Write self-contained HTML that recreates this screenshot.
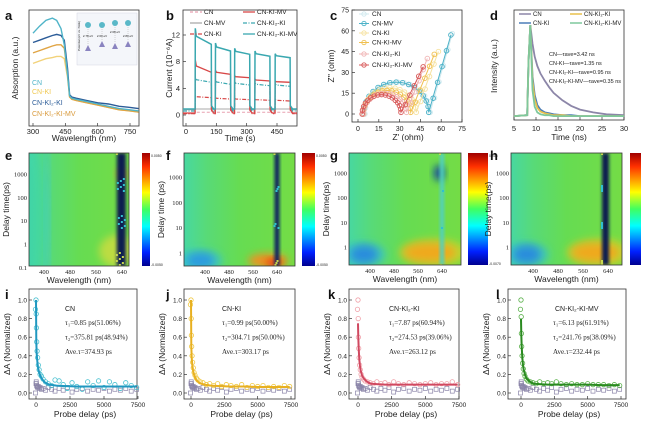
<!DOCTYPE html>
<html><head><meta charset="utf-8"><style>
html,body{margin:0;padding:0;background:#fff;}
svg{display:block;font-family:"Liberation Sans",sans-serif;}
</style></head><body>
<svg id="fig" width="652" height="426" viewBox="0 0 652 426" xmlns="http://www.w3.org/2000/svg">
<defs>
<linearGradient id="jet" x1="0" y1="1" x2="0" y2="0">
<stop offset="0" stop-color="#00008f"/><stop offset="0.12" stop-color="#0020ff"/><stop offset="0.35" stop-color="#00ffff"/>
<stop offset="0.5" stop-color="#40ff60"/><stop offset="0.65" stop-color="#ffff00"/><stop offset="0.88" stop-color="#ff3000"/><stop offset="1" stop-color="#a00000"/></linearGradient>
<linearGradient id="hmbase" x1="0" y1="0" x2="1" y2="0">
<stop offset="0" stop-color="#48d8a0"/><stop offset="0.2" stop-color="#58da78"/><stop offset="0.5" stop-color="#66dc52"/><stop offset="1" stop-color="#74dc46"/></linearGradient>
<filter id="bl" x="-50%" y="-50%" width="200%" height="200%"><feGaussianBlur stdDeviation="4"/></filter>
<filter id="bl2" x="-50%" y="-50%" width="200%" height="200%"><feGaussianBlur stdDeviation="1.5"/></filter>
</defs>
</svg>
<script>
// ---------- Panel a data ----------
const aWl = [300,330,360,390,410,430,445,460,470,480,500,550,600,650,700,750,790];
const aCN = [0.80,0.86,0.91,0.93,0.91,0.84,0.70,0.45,0.26,0.24,0.23,0.21,0.19,0.17,0.15,0.14,0.13];
const aKI = [0.54,0.56,0.58,0.59,0.60,0.60,0.58,0.42,0.25,0.23,0.22,0.20,0.18,0.16,0.14,0.13,0.12];
const aKI2 = [0.72,0.74,0.76,0.78,0.79,0.78,0.74,0.50,0.27,0.25,0.24,0.22,0.20,0.19,0.17,0.16,0.15];
const aKI2MV = [0.63,0.65,0.67,0.69,0.70,0.70,0.67,0.45,0.25,0.23,0.22,0.20,0.18,0.16,0.14,0.13,0.12];
const aTicks = [300,450,600,750];
// ---------- Panel b data ----------
const bOn = [45,145,240,340,440];
const bOff = [125,220,315,415,515];
const bTeal = [13.0,10.8,10.0,9.6,9.2], bTealEnd = [10.6,9.6,9.1,8.8,8.6];
const bRed = [8.3,6.7,5.9,5.4,5.1], bRedEnd = [6.4,6.1,5.6,5.1,4.9];
const bTealDD = [5.7,5.3,5.0,4.8,4.7], bTealDDEnd = [4.9,4.6,4.5,4.4,4.3];
const bRedDD = [2.9,2.6,2.5,2.4,2.3], bRedDDEnd = [2.6,2.4,2.3,2.2,2.1];
const bGray = [0.9,0.9,0.9,0.9,0.9];
const bPink = [0.4,0.4,0.4,0.4,0.4];
const bTicks = [0,150,300,450];
const bYTicks = [0,4,8,12];
// ---------- Panel c data ----------
const cNames = ["CN","CN-MV","CN-KI","CN-KI-MV","CN-KI\u2082-KI","CN-KI\u2082-KI-MV"];
const cStart = [5,4,4,4,4,3];
const cArcEnd = [52,51,42,38,35,31];
const cArcH = [23,23,19,17,15,14];
const cTailX = [68,67,58,55,50,47];
const cTailY = [58,57,45,43,40,34];
const cTicks = [0,15,30,45,60,75];
// ---------- Panel d data ----------
const dT = [5,8,8.3,8.7,9.2,9.7,10.3,11,12,13,14,16,18,20,23,26,30];
const dCN = [0.02,0.03,0.6,1.0,0.80,0.66,0.56,0.48,0.40,0.33,0.27,0.19,0.13,0.09,0.06,0.04,0.03];
const dKI = [0.02,0.03,0.6,1.0,0.45,0.25,0.14,0.09,0.06,0.05,0.04,0.03,0.03,0.02,0.02,0.02,0.02];
const dKI2 = [0.02,0.03,0.6,1.0,0.40,0.20,0.11,0.07,0.05,0.04,0.03,0.03,0.02,0.02,0.02,0.02,0.02];
const dMV = [0.02,0.03,0.6,1.0,0.30,0.12,0.06,0.04,0.03,0.03,0.02,0.02,0.02,0.02,0.02,0.02,0.02];
const dTicks = [5,10,15,20,25,30];
// ---------- Panels i-l data ----------
const fitT = [0,25,50,100,150,200,300,400,600,800,1000,1500,2000,3000,4000,5000,6000,7000,7400];
const fitI = [1.0,0.55,0.42,0.33,0.28,0.24,0.19,0.16,0.12,0.10,0.09,0.08,0.075,0.07,0.07,0.07,0.07,0.07,0.07];
const fitJ = [1.0,0.50,0.38,0.30,0.25,0.21,0.17,0.14,0.11,0.10,0.09,0.08,0.075,0.07,0.07,0.065,0.065,0.065,0.065];
const fitK = [0.75,0.60,0.48,0.36,0.29,0.24,0.19,0.16,0.13,0.11,0.10,0.095,0.09,0.09,0.09,0.09,0.09,0.09,0.09];
const fitL = [0.80,0.62,0.50,0.38,0.30,0.25,0.20,0.16,0.13,0.11,0.10,0.095,0.09,0.09,0.09,0.09,0.085,0.085,0.085];
const scT = [-40,0,15,30,50,80,120,170,230,300,400,520,700,900,1150,1400,1700,2000,2300,2650,3000,3400,3800,4200,4600,5000,5400,5800,6200,6600,7000,7400];
const scI = [0.9,1.0,0.85,0.7,0.55,0.45,0.38,0.3,0.25,0.2,0.18,0.15,0.12,0.1,0.08,0.14,0.13,0.09,0.05,0.11,0.07,0.04,0.12,0.08,0.13,0.06,0.12,0.09,0.05,0.11,0.08,0.06];
const scJ = [0.95,1.0,0.8,0.62,0.5,0.4,0.33,0.27,0.22,0.19,0.16,0.14,0.12,0.11,0.09,0.1,0.08,0.1,0.07,0.09,0.08,0.07,0.09,0.06,0.08,0.07,0.08,0.06,0.07,0.06,0.08,0.07];
const scK = [0.9,1.0,0.8,0.6,0.48,0.38,0.3,0.25,0.2,0.17,0.15,0.13,0.12,0.11,0.1,0.12,0.1,0.11,0.09,0.12,0.1,0.09,0.11,0.1,0.09,0.1,0.11,0.09,0.1,0.1,0.12,0.09];
const scL = [0.9,1.0,0.82,0.64,0.5,0.4,0.32,0.26,0.21,0.18,0.15,0.13,0.12,0.11,0.1,0.12,0.1,0.11,0.1,0.12,0.1,0.09,0.1,0.09,0.09,0.1,0.09,0.09,0.09,0.08,0.09,0.08];
const scRef = [0.0,0.1,0.12,0.1,0.08,0.07,0.06,0.07,0.05,0.06,0.04,0.05,0.03,0.06,0.04,0.02,0.05,0.03,0.06,0.01,0.04,0.05,0.02,0.04,0.03,0.05,0.02,0.04,0.03,0.05,0.02,0.04];
const yTicksN = [0.0,0.2,0.4,0.6,0.8,1.0];
const xTicksN = [0,2500,5000,7500];
const hmXTicks = [400,480,560,640];
const hmYTicksE = [0.1,1,10,100,1000];
const hmYTicks = [1,10,100,1000];

const NS="http://www.w3.org/2000/svg";
const svg=document.getElementById('fig');
function mk(tag,attrs,parent,txt){const e=document.createElementNS(NS,tag);for(const k in attrs)e.setAttribute(k,attrs[k]);if(txt!==undefined)e.textContent=txt;(parent||svg).appendChild(e);return e;}
function lin(d0,d1,r0,r1){return v=>r0+(v-d0)*(r1-r0)/(d1-d0);}
function logS(d0,d1,r0,r1){return v=>r0+(Math.log10(v)-Math.log10(d0))*(r1-r0)/(Math.log10(d1)-Math.log10(d0));}
function pathOf(xs,ys,X,Y){return xs.map((x,i)=>(i?'L':'M')+X(x).toFixed(1)+' '+Y(ys[i]).toFixed(1)).join(' ');}
function group(name){const g=mk('g',{});return g;}
function label(g,x,y,t,opt){opt=opt||{};const e=mk('text',{x:x,y:y,'font-size':opt.fs||7,'text-anchor':opt.a||'middle',fill:opt.fill||'#222','font-weight':opt.fw||'normal'},g,t);if(opt.rot)e.setAttribute('transform','rotate(-90 '+x+' '+y+')');if(opt.ff)e.setAttribute('font-family',opt.ff);return e;}
function box(g,x0,y0,x1,y1,name){const r=mk('rect',{x:x0,y:y0,width:x1-x0,height:y1-y0,fill:'none',stroke:'#333','stroke-width':0.8},g);return r;}
function panelLetter(x,y,t){const e=label(svg,x,y,t,{fs:13,fw:'bold',a:'start',fill:'#111'});}

// ================= Panel a =================
(function(){
const g=group('panel-a-absorption');
const X=lin(300,750,33,130), Y=lin(0,1,126,10);
box(g,29,10,139,126,'panel-a-frame');
const cp=mk('clipPath',{id:'clipa'},svg);mk('rect',{x:29,y:10,width:110,height:116},cp);
const gg=mk('g',{'clip-path':'url(#clipa)'},g);
const ser=[[aKI,'#f2d27a'],[aKI2MV,'#e0a444'],[aKI2,'#2c5c98'],[aCN,'#4fb4c8']];
ser.forEach(s=>{const p=mk('path',{d:pathOf(aWl,s[0],X,Y),fill:'none',stroke:s[1],'stroke-width':1.4},gg);});
aTicks.forEach(t=>{mk('line',{x1:X(t),x2:X(t),y1:126,y2:123,stroke:'#333','stroke-width':0.7},g);label(g,X(t),134,t,{fs:7.5});});
label(g,84,141,'Wavelength (nm)',{fs:8.5});
label(g,18,68,'Absorption (a.u.)',{fs:8.5,rot:1});
const ins=mk('rect',{x:77,y:13,width:60,height:52,fill:'#f4f6fa',stroke:'#ccd','stroke-width':0.4},g);

[[88,22,49],[102,22,45],[115,20,47],[128,20,45]].forEach(c=>{mk('circle',{cx:c[0],cy:c[1]+3,r:3,fill:'#5ab8c8'},g);mk('line',{x1:c[0],x2:c[0],y1:c[1]+7,y2:c[2]-4,stroke:'#999','stroke-width':0.4,'stroke-dasharray':'1 1'},g);mk('path',{d:`M${c[0]-3} ${c[2]+2}L${c[0]+3} ${c[2]+2}L${c[0]} ${c[2]-4}Z`,fill:'#8a84c0'},g);});
label(g,88,37,'2.78 eV',{fs:3});label(g,102,37,'2.60 eV',{fs:3});label(g,115,33,'2.68 eV',{fs:3});label(g,128,37,'2.80 eV',{fs:3});
label(g,80,36,'Potential (eV vs. NHE)',{fs:3,rot:1});
const leg=[['CN','#4fb4c8',85],['CN-KI','#f0c850',94],['CN-KI\u2082-KI','#2c5c98',105],['CN-KI\u2082-KI-MV','#d99a3c',116]];
leg.forEach(l=>{const e=label(g,32,l[2],l[0],{fs:7,a:'start',fill:l[1]});});
})();
panelLetter(5,20,'a');

// ================= Panel b =================
(function(){
const g=group('panel-b-photocurrent');
const X=lin(0,450,186,277), Y=lin(0,12,115,35);
box(g,183,10,297,126,'panel-b-frame');
const cp=mk('clipPath',{id:'clipb'},svg);mk('rect',{x:183,y:10,width:114,height:116},cp);
const gg=mk('g',{'clip-path':'url(#clipb)'},g);
function sq(peaks,ends,base,col,dash,w){
 let xs=[-15],ys=[base];
 peaks.forEach((p,i)=>{xs.push(bOn[i],bOn[i]+1,bOn[i]+6,bOff[i],bOff[i]+1,bOff[i]+12);ys.push(base,p,p-(p-ends[i])*0.5,ends[i],base+0.5,base);});
 xs.push(548);ys.push(base);
 const p=mk('path',{d:pathOf(xs,ys,X,Y),fill:'none',stroke:col,'stroke-width':w||1.2},gg);
 if(dash)p.setAttribute('stroke-dasharray',dash);
 
}
sq(bPink,bPink,0.2,'#e8a0b0','3 2',1);
sq(bGray,bGray,0.8,'#aaaaaa',null,1);
sq(bRedDD,bRedDDEnd,0.2,'#d84848','4 1.5 1 1.5',1.2);
sq(bTealDD,bTealDDEnd,0.6,'#3aa8b0','4 1.5 1 1.5',1.2);
sq(bRed,bRedEnd,0.3,'#d84848',null,1.3);
sq(bTeal,bTealEnd,0.9,'#3aa8b0',null,1.5);
bTicks.forEach(t=>{mk('line',{x1:X(t),x2:X(t),y1:126,y2:123,stroke:'#333','stroke-width':0.7},g);label(g,X(t),134,t,{fs:7.5});});
bYTicks.forEach(t=>{mk('line',{x1:183,x2:186,y1:Y(t),y2:Y(t),stroke:'#333','stroke-width':0.7},g);label(g,180,Y(t)+2.5,t,{fs:7.5,a:'end'});});
label(g,240,141,'Time (s)',{fs:8.5});
label(g,172,68,'Current (10\u207B\u2076A)',{fs:8.5,rot:1});
const leg=[[190,14,'CN','#e8a0b0','3 2'],[190,25,'CN-MV','#aaaaaa',null],[190,36,'CN-KI','#d84848','4 1.5 1 1.5'],[243,14,'CN-KI-MV','#d84848',null],[243,25,'CN-KI\u2082-KI','#3aa8b0','4 1.5 1 1.5'],[243,36,'CN-KI\u2082-KI-MV','#3aa8b0',null]];
leg.forEach(l=>{const lg=mk('g',{},g);
 const ln=mk('line',{x1:l[0],x2:l[0]+12,y1:l[1]-2,y2:l[1]-2,stroke:l[3],'stroke-width':1.3},lg);if(l[4])ln.setAttribute('stroke-dasharray',l[4]);
 label(lg,l[0]+14,l[1],l[2],{fs:6.5,a:'start'});});
})();
panelLetter(166,20,'b');

// ================= Panel c =================
(function(){
const g=group('panel-c-nyquist');
const X=lin(0,75,358,462), Y=lin(0,75,114,10);
box(g,352,10,462,122,'panel-c-frame');
const cols=['#cfe8ee','#4cb2c8','#f6e2a0','#f0c050','#f0b4b4','#d85a5a'];
for(let s=0;s<6;s++){
 const xs=[],ys=[];const c=(cStart[s]+cArcEnd[s])/2, r=(cArcEnd[s]-cStart[s])/2;
 for(let k=0;k<=16;k++){const th=Math.PI*(1-k/16);xs.push(c+r*Math.cos(th));ys.push(cArcH[s]*Math.sin(th)+ (k>12?(k-12)*0.3:0));}
 xs.push(cTailX[s]);ys.push(cTailY[s]);
 const sg=mk('g',{},g);
 mk('path',{d:pathOf(xs,ys,X,Y),fill:'none',stroke:cols[s],'stroke-width':1},sg);
 xs.forEach((x,i)=>{const pt=mk('circle',{cx:X(x),cy:Y(ys[i]),r:2.3,fill:'none',stroke:cols[s],'stroke-width':0.9},sg);});
 for(let k=1;k<5;k++){const tx=cArcEnd[s]+(cTailX[s]-cArcEnd[s])*k/5, ty=cTailY[s]*k/5;mk('circle',{cx:X(tx),cy:Y(ty),r:2.3,fill:'none',stroke:cols[s],'stroke-width':0.9},sg);}
 const ly=[16,25.5,35,44.5,56,67][s];
 const lg=mk('g',{},g);
 mk('line',{x1:359,x2:369,y1:ly-2,y2:ly-2,stroke:cols[s],'stroke-width':1},lg);mk('circle',{cx:364,cy:ly-2,r:2.2,fill:'none',stroke:cols[s],'stroke-width':0.9},lg);
 label(lg,372,ly,cNames[s],{fs:6.5,a:'start'});
}
cTicks.forEach(t=>{mk('line',{x1:X(t),x2:X(t),y1:122,y2:119,stroke:'#333','stroke-width':0.7},g);label(g,X(t),131,t,{fs:7});
 mk('line',{x1:352,x2:355,y1:Y(t),y2:Y(t),stroke:'#333','stroke-width':0.7},g);label(g,349,Y(t)+2.5,t,{fs:7,a:'end'});});
label(g,408,140,"Z' (ohm)",{fs:8.5});
label(g,334,66,"Z'' (ohm)",{fs:8.5,rot:1});
})();
panelLetter(330,20,'c');

// ================= Panel d =================
(function(){
const g=group('panel-d-trpl');
const X=lin(5,30,514,624), Y=lin(0,1,118,25);
box(g,514,10,624,120,'panel-d-frame');
const ser=[[dCN,'#8c86a8'],[dKI,'#4a7cb8'],[dKI2,'#e8c04c'],[dMV,'#7ec89c']];
ser.forEach(s=>{const p=mk('path',{d:pathOf(dT,s[0],X,Y),fill:'none',stroke:s[1],'stroke-width':1.8},g);});
dTicks.forEach(t=>{mk('line',{x1:X(t),x2:X(t),y1:120,y2:117,stroke:'#333','stroke-width':0.7},g);label(g,X(t),131,t,{fs:7.5});});
label(g,569,140,'Time (ns)',{fs:8.5});
label(g,497,66,'Intensity (a.u.)',{fs:8.5,rot:1});
const leg=[[519,16,'CN','#8c86a8'],[519,25,'CN-KI','#4a7cb8'],[570,16,'CN-KI\u2082-KI','#e8c04c'],[570,25,'CN-KI\u2082-KI-MV','#7ec89c']];
leg.forEach(l=>{const lg=mk('g',{},g);
 mk('line',{x1:l[0],x2:l[0]+12,y1:l[1]-2,y2:l[1]-2,stroke:l[3],'stroke-width':1.5},lg);label(lg,l[0]+14,l[1],l[2],{fs:6,a:'start'});});
['CN\u2014\u03C4ave=3.42 ns','CN-KI\u2014\u03C4ave=1.35 ns','CN-KI\u2082-KI\u2014\u03C4ave=0.95 ns','CN-KI\u2082-KI-MV\u2014\u03C4ave=0.35 ns'].forEach((t,i)=>label(g,549,56+i*9,t,{fs:5.5,a:'start'}));
})();
panelLetter(490,20,'d');

// ================= Heatmaps =================
function heatmap(cfg){
 const g=group(cfg.name);
 const X=lin(400,640,cfg.x400,cfg.x640), Y=logS(1,1000,cfg.y1,cfg.y1000);
 const id='clip'+cfg.letter;const cp=mk('clipPath',{id:id},svg);mk('rect',{x:cfg.x0,y:cfg.y0,width:cfg.x1-cfg.x0,height:cfg.y2-cfg.y0},cp);
 const gg=mk('g',{'clip-path':'url(#'+id+')'},g);
 mk('rect',{x:cfg.x0,y:cfg.y0,width:cfg.x1-cfg.x0,height:cfg.y2-cfg.y0,fill:'url(#hmbase)'},gg);
 cfg.blobs.forEach(b=>{const e=mk('ellipse',{cx:X(b[0]),cy:Y(b[1]),rx:b[2],ry:b[3],fill:b[4],opacity:b[5]||1,filter:'url(#bl)'},gg);});
 if(cfg.col){const cx=X(cfg.col);
  mk('rect',{x:cx-cfg.colW/2,y:cfg.y0,width:cfg.colW,height:cfg.y2-cfg.y0,fill:cfg.colFill,filter:'url(#bl2)'},gg);
  for(let k=0;k<cfg.spk;k++){const yy=cfg.y0+((k*37)%(cfg.y2-cfg.y0));mk('rect',{x:cx-cfg.colW/2+((k*7)%cfg.colW)-1,y:yy,width:2,height:2,fill:k%3?'#30c0d0':'#c8d850'},gg);}
 }
 box(g,cfg.x0,cfg.y0,cfg.x1,cfg.y2,'heatmap-frame');
 hmXTicks.forEach(t=>label(g,X(t),cfg.y2+8,t,{fs:6.5,ff:'Liberation Serif'}));
 cfg.yt.forEach(t=>label(g,cfg.x0-2,Y(t)+2.5,t,{fs:6.5,a:'end',ff:'Liberation Serif'}));
 label(g,(cfg.x0+cfg.x1)/2,cfg.y2+17,'Wavelength (nm)',{fs:8.5});
 label(g,cfg.x0-20,(cfg.y0+cfg.y2)/2,cfg.ytitle,{fs:8.5,rot:1});
 const cb=mk('rect',{x:cfg.cb[0],y:cfg.y0,width:cfg.cb[1]-cfg.cb[0],height:cfg.y2-cfg.y0,fill:'url(#jet)'},g);
 
 label(g,cfg.cb[1]+1,cfg.y0+4,cfg.cbl[0],{fs:3.5,a:'start'});label(g,cfg.cb[1]+1,cfg.y2,cfg.cbl[1],{fs:3.5,a:'start'});
}
heatmap({name:'panel-e-heatmap',letter:'e',x0:29,x1:129,y0:153,y2:266,x400:44,x640:122,y1:244,y1000:174,yt:hmYTicksE,cb:[142,150],cbl:['0.0050','-0.0050'],ytitle:'Delay time(ps)',
 blobs:[[410,10,2,80,'#40c8d8',0.9],[360,10,14,80,'#3ad4b0',0.5],[625,0.5,18,16,'#d0dc40',0.8],[640,1000,5,6,'#f08030',0.8]],col:638,colW:9,colFill:'#0a1a50',spk:22});
heatmap({name:'panel-f-heatmap',letter:'f',x0:184,x1:295,y0:153,y2:266,x400:205,x640:277,y1:253,y1000:177,yt:hmYTicks,cb:[302,315],cbl:['0.0050','-0.0050'],ytitle:'Delay time (ps)',
 blobs:[[385,0.5,14,7,'#2060e0'],[385,0.5,22,11,'#30c0e0',0.6],[610,0.5,20,7,'#f09020'],[630,0.4,8,4,'#e83010']],col:640,colW:5,colFill:'#0a2060',spk:10});
heatmap({name:'panel-g-heatmap',letter:'g',x0:349,x1:461,y0:153,y2:265,x400:370,x640:442,y1:247,y1000:173,yt:hmYTicks,cb:[468,488],cbl:['0.015','-0.0070'],ytitle:'Delay time(ps)',
 blobs:[[380,0.5,14,8,'#1c40d8'],[380,0.5,22,12,'#30c0e0',0.6],[600,0.6,26,9,'#f07018'],[610,0.6,34,14,'#f0d020',0.6],[630,1000,5,8,'#1040a0']],col:640,colW:4,colFill:'#50d0c0',spk:4});
heatmap({name:'panel-h-heatmap',letter:'h',x0:511,x1:622,y0:153,y2:265,x400:533,x640:608,y1:247,y1000:173,yt:hmYTicks,cb:[630,641],cbl:['',''],ytitle:'Delay time(ps)',
 blobs:[[380,0.5,14,8,'#1c40d8'],[380,0.5,22,12,'#30c0e0',0.6],[600,0.6,24,9,'#f07018'],[610,0.6,32,14,'#f0d020',0.6]],col:632,colW:7,colFill:'#0a1a50',spk:18});
panelLetter(5,160,'e');panelLetter(166,160,'f');panelLetter(330,160,'g');panelLetter(490,160,'h');

// ================= Kinetics panels =================
function kinetics(cfg){
 const g=group(cfg.name);
 const X=lin(0,7500,cfg.x0v,cfg.x7500), Y=lin(0,1,393,300);
 box(g,cfg.bx0,289,cfg.bx1,399,'kinetics-frame');
 scT.forEach((t,i)=>{const s=mk('rect',{x:X(t)-2,y:Y(scRef[i])-2,width:4,height:4,fill:'none',stroke:'#8a84a8','stroke-width':0.7},g);});
 scT.forEach((t,i)=>{const s=mk('circle',{cx:X(t),cy:Y(cfg.sc[i]),r:2.2,fill:'none',stroke:cfg.col,'stroke-width':0.8},g);});
 const p=mk('path',{d:pathOf(fitT,cfg.fit,X,Y),fill:'none',stroke:cfg.fc,'stroke-width':2},g);
 xTicksN.forEach(t=>{mk('line',{x1:X(t),x2:X(t),y1:399,y2:396,stroke:'#333','stroke-width':0.7},g);label(g,X(t),407,t,{fs:6.5});});
 yTicksN.forEach(t=>{mk('line',{x1:cfg.bx0,x2:cfg.bx0+3,y1:Y(t),y2:Y(t),stroke:'#333','stroke-width':0.7},g);label(g,cfg.bx0-2,Y(t)+2.5,t.toFixed(1),{fs:6.5,a:'end'});});
 label(g,(cfg.bx0+cfg.bx1)/2+2,417,'Probe delay (ps)',{fs:8.5});
 label(g,cfg.bx0-19,344,'\u0394A (Normalized)',{fs:8.5,rot:1});
 const tx=cfg.tx;
 label(g,tx+(cfg.nameOff||0),311,cfg.title,{fs:7,a:'start'});
 cfg.lines.forEach((t,i)=>label(g,tx,325+i*14.5,t,{fs:7,a:'start',ff:'Liberation Serif'}));
}
kinetics({name:'panel-i-kinetics',x0v:36,x7500:138,bx0:29,bx1:137,sc:scI,fit:fitI,col:'#48c0d0',fc:'#2098c0',tx:65,title:'CN',lines:['\u03C4\u2081=0.85 ps(51.06%)','\u03C4\u2082=375.81 ps(48.94%)','Ave.\u03C4=374.93 ps']});
kinetics({name:'panel-j-kinetics',x0v:191,x7500:291,bx0:184,bx1:295,sc:scJ,fit:fitJ,col:'#f0c840',fc:'#e8b020',tx:222,title:'CN-KI',lines:['\u03C4\u2081=0.99 ps(50.00%)','\u03C4\u2082=304.71 ps(50.00%)','Ave.\u03C4=303.17 ps']});
kinetics({name:'panel-k-kinetics',x0v:358,x7500:459,bx0:349,bx1:459,sc:scK,fit:fitK,col:'#f0a0a8',fc:'#d04860',tx:389,title:'CN-KI\u2082-KI',lines:['\u03C4\u2081=7.87 ps(60.94%)','\u03C4\u2082=274.53 ps(39.06%)','Ave.\u03C4=263.12 ps']});
kinetics({name:'panel-l-kinetics',x0v:521,x7500:621,bx0:508,bx1:626,sc:scL,fit:fitL,col:'#58b048',fc:'#2a8a20',tx:553,title:'CN-KI\u2082-KI-MV',nameOff:2,lines:['\u03C4\u2081=6.13 ps(61.91%)','\u03C4\u2082=241.76 ps(38.09%)','Ave.\u03C4=232.44 ps']});
panelLetter(5,299,'i');panelLetter(166,299,'j');panelLetter(328,299,'k');panelLetter(496,299,'l');
</script>
</body></html>
